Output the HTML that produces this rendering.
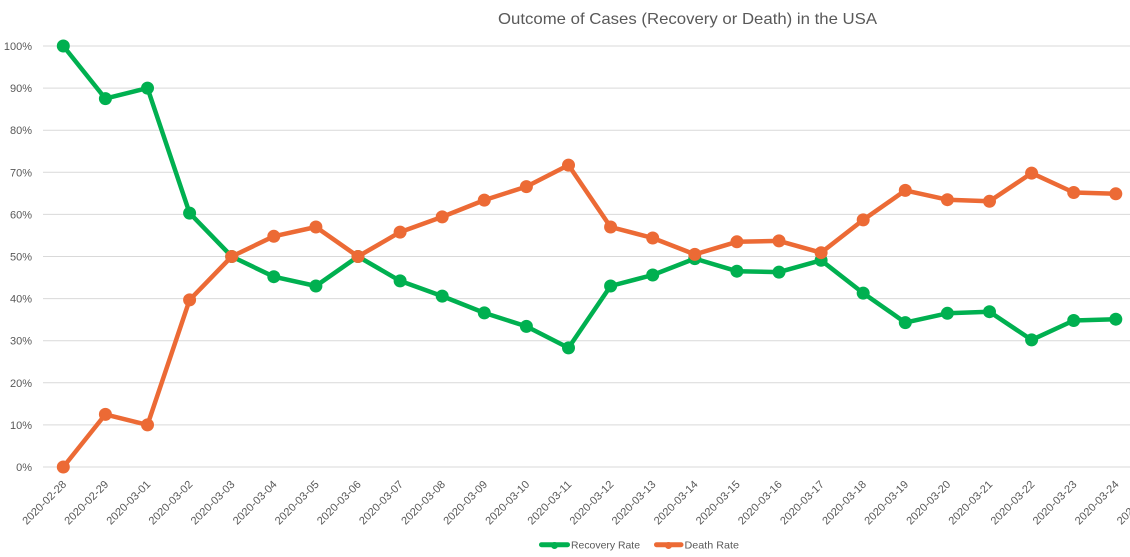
<!DOCTYPE html>
<html>
<head>
<meta charset="utf-8">
<style>
html,body{margin:0;padding:0;background:#fff;}
svg{display:block;}
text{font-family:"Liberation Sans",Arial,sans-serif;fill:#595959;}
</style>
</head>
<body>
<svg width="1130" height="557" viewBox="0 0 1130 557" xmlns="http://www.w3.org/2000/svg">
<rect width="1130" height="557" fill="#fff"/>
<text x="687.5" y="24" font-size="16" text-anchor="middle" textLength="379" lengthAdjust="spacingAndGlyphs">Outcome of Cases (Recovery or Death) in the USA</text>
<g stroke="#D9D9D9" stroke-width="1">
<line x1="43" y1="46" x2="1130" y2="46"/>
<line x1="43" y1="88.1" x2="1130" y2="88.1"/>
<line x1="43" y1="130.2" x2="1130" y2="130.2"/>
<line x1="43" y1="172.3" x2="1130" y2="172.3"/>
<line x1="43" y1="214.4" x2="1130" y2="214.4"/>
<line x1="43" y1="256.5" x2="1130" y2="256.5"/>
<line x1="43" y1="298.6" x2="1130" y2="298.6"/>
<line x1="43" y1="340.7" x2="1130" y2="340.7"/>
<line x1="43" y1="382.8" x2="1130" y2="382.8"/>
<line x1="43" y1="424.9" x2="1130" y2="424.9"/>
<line x1="43" y1="467" x2="1130" y2="467"/>
</g>
<g font-size="11" text-anchor="end">
<text x="32" y="50">100%</text>
<text x="32" y="92.1">90%</text>
<text x="32" y="134.2">80%</text>
<text x="32" y="176.3">70%</text>
<text x="32" y="218.4">60%</text>
<text x="32" y="260.5">50%</text>
<text x="32" y="302.6">40%</text>
<text x="32" y="344.7">30%</text>
<text x="32" y="386.8">20%</text>
<text x="32" y="428.9">10%</text>
<text x="32" y="471">0%</text>
</g>
<g font-size="11" text-anchor="end">
<text transform="translate(67,485) rotate(-45)" textLength="57" lengthAdjust="spacingAndGlyphs">2020-02-28</text>
<text transform="translate(109.1,485) rotate(-45)" textLength="57" lengthAdjust="spacingAndGlyphs">2020-02-29</text>
<text transform="translate(151.2,485) rotate(-45)" textLength="57" lengthAdjust="spacingAndGlyphs">2020-03-01</text>
<text transform="translate(193.3,485) rotate(-45)" textLength="57" lengthAdjust="spacingAndGlyphs">2020-03-02</text>
<text transform="translate(235.4,485) rotate(-45)" textLength="57" lengthAdjust="spacingAndGlyphs">2020-03-03</text>
<text transform="translate(277.5,485) rotate(-45)" textLength="57" lengthAdjust="spacingAndGlyphs">2020-03-04</text>
<text transform="translate(319.6,485) rotate(-45)" textLength="57" lengthAdjust="spacingAndGlyphs">2020-03-05</text>
<text transform="translate(361.7,485) rotate(-45)" textLength="57" lengthAdjust="spacingAndGlyphs">2020-03-06</text>
<text transform="translate(403.8,485) rotate(-45)" textLength="57" lengthAdjust="spacingAndGlyphs">2020-03-07</text>
<text transform="translate(445.9,485) rotate(-45)" textLength="57" lengthAdjust="spacingAndGlyphs">2020-03-08</text>
<text transform="translate(488,485) rotate(-45)" textLength="57" lengthAdjust="spacingAndGlyphs">2020-03-09</text>
<text transform="translate(530.1,485) rotate(-45)" textLength="57" lengthAdjust="spacingAndGlyphs">2020-03-10</text>
<text transform="translate(572.2,485) rotate(-45)" textLength="57" lengthAdjust="spacingAndGlyphs">2020-03-11</text>
<text transform="translate(614.3,485) rotate(-45)" textLength="57" lengthAdjust="spacingAndGlyphs">2020-03-12</text>
<text transform="translate(656.4,485) rotate(-45)" textLength="57" lengthAdjust="spacingAndGlyphs">2020-03-13</text>
<text transform="translate(698.5,485) rotate(-45)" textLength="57" lengthAdjust="spacingAndGlyphs">2020-03-14</text>
<text transform="translate(740.6,485) rotate(-45)" textLength="57" lengthAdjust="spacingAndGlyphs">2020-03-15</text>
<text transform="translate(782.7,485) rotate(-45)" textLength="57" lengthAdjust="spacingAndGlyphs">2020-03-16</text>
<text transform="translate(824.8,485) rotate(-45)" textLength="57" lengthAdjust="spacingAndGlyphs">2020-03-17</text>
<text transform="translate(866.9,485) rotate(-45)" textLength="57" lengthAdjust="spacingAndGlyphs">2020-03-18</text>
<text transform="translate(909,485) rotate(-45)" textLength="57" lengthAdjust="spacingAndGlyphs">2020-03-19</text>
<text transform="translate(951.1,485) rotate(-45)" textLength="57" lengthAdjust="spacingAndGlyphs">2020-03-20</text>
<text transform="translate(993.2,485) rotate(-45)" textLength="57" lengthAdjust="spacingAndGlyphs">2020-03-21</text>
<text transform="translate(1035.3,485) rotate(-45)" textLength="57" lengthAdjust="spacingAndGlyphs">2020-03-22</text>
<text transform="translate(1077.4,485) rotate(-45)" textLength="57" lengthAdjust="spacingAndGlyphs">2020-03-23</text>
<text transform="translate(1119.5,485) rotate(-45)" textLength="57" lengthAdjust="spacingAndGlyphs">2020-03-24</text>
<text transform="translate(1161.6,485) rotate(-45)" textLength="57" lengthAdjust="spacingAndGlyphs">2020-03-25</text>
</g>
<!-- Recovery Rate -->
<polyline fill="none" stroke="#00B050" stroke-width="4.5" stroke-linejoin="round" stroke-linecap="round"
points="63.3,46 105.4,98.6 147.5,88.1 189.6,213.1 231.7,256.5 273.8,276.7 315.9,286 358,256.5 400.1,280.9 442.2,296.1 484.3,312.9 526.4,326.4 568.5,347.9 610.6,286 652.7,275 694.8,258.6 736.9,271.2 779,272.1 821.1,260.3 863.2,293.1 905.3,322.6 947.4,313.3 989.5,311.7 1031.6,339.9 1073.7,320.5 1115.8,319.2"/>
<g fill="#00B050">
<circle cx="63.3" cy="46" r="6.5"/><circle cx="105.4" cy="98.6" r="6.5"/><circle cx="147.5" cy="88.1" r="6.5"/><circle cx="189.6" cy="213.1" r="6.5"/><circle cx="231.7" cy="256.5" r="6.5"/><circle cx="273.8" cy="276.7" r="6.5"/><circle cx="315.9" cy="286" r="6.5"/><circle cx="358" cy="256.5" r="6.5"/><circle cx="400.1" cy="280.9" r="6.5"/><circle cx="442.2" cy="296.1" r="6.5"/><circle cx="484.3" cy="312.9" r="6.5"/><circle cx="526.4" cy="326.4" r="6.5"/><circle cx="568.5" cy="347.9" r="6.5"/><circle cx="610.6" cy="286" r="6.5"/><circle cx="652.7" cy="275" r="6.5"/><circle cx="694.8" cy="258.6" r="6.5"/><circle cx="736.9" cy="271.2" r="6.5"/><circle cx="779" cy="272.1" r="6.5"/><circle cx="821.1" cy="260.3" r="6.5"/><circle cx="863.2" cy="293.1" r="6.5"/><circle cx="905.3" cy="322.6" r="6.5"/><circle cx="947.4" cy="313.3" r="6.5"/><circle cx="989.5" cy="311.7" r="6.5"/><circle cx="1031.6" cy="339.9" r="6.5"/><circle cx="1073.7" cy="320.5" r="6.5"/><circle cx="1115.8" cy="319.2" r="6.5"/>
</g>
<!-- Death Rate -->
<polyline fill="none" stroke="#EC6A35" stroke-width="4.5" stroke-linejoin="round" stroke-linecap="round"
points="63.3,467 105.4,414.4 147.5,424.9 189.6,299.9 231.7,256.5 273.8,236.3 315.9,227 358,256.5 400.1,232.1 442.2,216.9 484.3,200.1 526.4,186.6 568.5,165.1 610.6,227 652.7,238 694.8,254.4 736.9,241.8 779,240.9 821.1,252.7 863.2,219.9 905.3,190.4 947.4,199.7 989.5,201.3 1031.6,173.1 1073.7,192.5 1115.8,193.8"/>
<g fill="#EC6A35">
<circle cx="63.3" cy="467" r="6.5"/><circle cx="105.4" cy="414.4" r="6.5"/><circle cx="147.5" cy="424.9" r="6.5"/><circle cx="189.6" cy="299.9" r="6.5"/><circle cx="231.7" cy="256.5" r="6.5"/><circle cx="273.8" cy="236.3" r="6.5"/><circle cx="315.9" cy="227" r="6.5"/><circle cx="358" cy="256.5" r="6.5"/><circle cx="400.1" cy="232.1" r="6.5"/><circle cx="442.2" cy="216.9" r="6.5"/><circle cx="484.3" cy="200.1" r="6.5"/><circle cx="526.4" cy="186.6" r="6.5"/><circle cx="568.5" cy="165.1" r="6.5"/><circle cx="610.6" cy="227" r="6.5"/><circle cx="652.7" cy="238" r="6.5"/><circle cx="694.8" cy="254.4" r="6.5"/><circle cx="736.9" cy="241.8" r="6.5"/><circle cx="779" cy="240.9" r="6.5"/><circle cx="821.1" cy="252.7" r="6.5"/><circle cx="863.2" cy="219.9" r="6.5"/><circle cx="905.3" cy="190.4" r="6.5"/><circle cx="947.4" cy="199.7" r="6.5"/><circle cx="989.5" cy="201.3" r="6.5"/><circle cx="1031.6" cy="173.1" r="6.5"/><circle cx="1073.7" cy="192.5" r="6.5"/><circle cx="1115.8" cy="193.8" r="6.5"/>
</g>
<!-- Legend -->
<line x1="541.5" y1="544.7" x2="567.5" y2="544.7" stroke="#00B050" stroke-width="5" stroke-linecap="round"/>
<circle cx="554.5" cy="545.5" r="3.5" fill="#00B050"/>
<text x="571" y="548.5" font-size="10.5" textLength="69" lengthAdjust="spacingAndGlyphs">Recovery Rate</text>
<line x1="656.5" y1="544.7" x2="681" y2="544.7" stroke="#EC6A35" stroke-width="5" stroke-linecap="round"/>
<circle cx="668.5" cy="545.5" r="3.5" fill="#EC6A35"/>
<text x="684.5" y="548.5" font-size="10.5" textLength="54.5" lengthAdjust="spacingAndGlyphs">Death Rate</text>
</svg>
</body>
</html>
